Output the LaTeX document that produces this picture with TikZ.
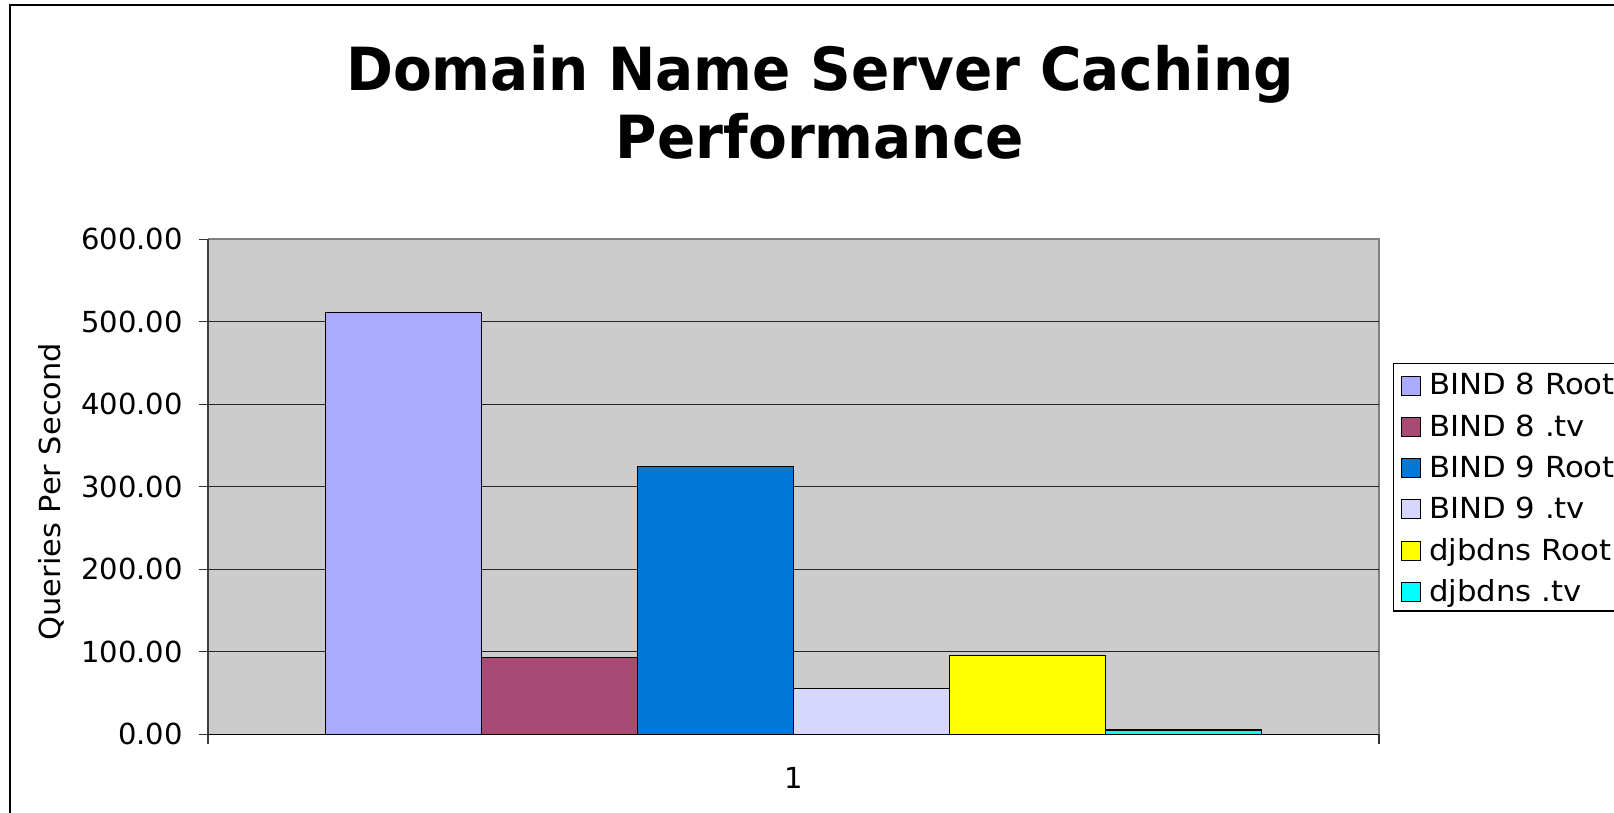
\documentclass[tikz,border=0pt]{standalone}
\usepackage{graphicx}
\usepackage{fontspec}
\setmainfont{DejaVu Sans}
\definecolor{plotbg}{RGB}{204,204,204}
\definecolor{bAroot}{RGB}{170,170,255}
\definecolor{bAtv}{RGB}{169,74,116}
\definecolor{bBroot}{RGB}{0,121,214}
\definecolor{bBtv}{RGB}{214,214,255}
\definecolor{djroot}{RGB}{255,255,0}
\definecolor{djtv}{RGB}{0,255,255}
\definecolor{edgegray}{RGB}{128,128,128}
\begin{document}
\begin{tikzpicture}[x=1pt,y=-1pt,
  lbl/.style={font=\fontsize{29}{34}\selectfont, inner sep=0pt},
  wlbl/.style={font=\fontsize{29}{34}\selectfont, inner sep=0pt},
  ttl/.style={font=\fontsize{59.5}{60}\selectfont\bfseries, inner sep=0pt, anchor=base},
  barbox/.style={draw=black, line width=1.4pt},
  swatch/.style={draw=black, line width=1pt, minimum size=19pt, inner sep=0pt},
  gridln/.style={draw=black!85, line width=1.1pt},
  tick/.style={draw=black!80, line width=1.1pt}]
\useasboundingbox (0,0) rectangle (1614,812);
\clip (0,0) rectangle (1614,812);
\fill[white] (0,0) rectangle (1614,812);
% outer chart frame
\draw[line width=1.6pt] (10,5) rectangle (1700,900);
% title
\node[ttl] (title1) at (820,90) {\scalebox{0.95}[1]{Domain Name Server Caching}};
\node[ttl] (title2) at (820,158.3) {\scalebox{0.95}[1]{Performance}};
% plot area
\fill[plotbg] (208,239) rectangle (1379,734.3);
\draw[edgegray, line width=1.5pt] (208,239) -- (1379,239) -- (1379,734.3);
% gridlines
\foreach \v in {1,...,5}
  \draw[gridln] (208,{734.3-82.5*\v}) -- (1379,{734.3-82.5*\v});
% bars
\draw[barbox, fill=bAroot] (325.3,734.3) rectangle (481.3,312.7);
\draw[barbox, fill=bAtv]   (481.3,734.3) rectangle (637.3,657.7);
\draw[barbox, fill=bBroot] (637.3,734.3) rectangle (793.3,466.7);
\draw[barbox, fill=bBtv]   (793.3,734.3) rectangle (949.3,688.3);
\draw[barbox, fill=djroot] (949.3,734.3) rectangle (1105.3,655.5);
\draw[barbox, fill=djtv]   (1105.3,734.3) rectangle (1261.3,730);
% axes
\draw[black!75, line width=1.5pt] (208,239) -- (208,744);
\draw[black, line width=1.3pt] (208,734.3) -- (1379,734.3);
\draw[tick] (1379,734.3) -- (1379,744);
\foreach \v in {0,...,6}
  \draw[tick] (199,{734.3-82.5*\v}) -- (208,{734.3-82.5*\v});
% tick labels
\node[lbl, anchor=east] (y0) at (183,734.3) {0.00};
\node[lbl, anchor=east] (y1) at (183,651.8) {100.00};
\node[lbl, anchor=east] (y2) at (183,569.3) {200.00};
\node[lbl, anchor=east] (y3) at (183,486.8) {300.00};
\node[lbl, anchor=east] (y4) at (183,404.3) {400.00};
\node[lbl, anchor=east] (y5) at (183,321.8) {500.00};
\node[lbl, anchor=east] (y6) at (183,239.3) {600.00};
\node[lbl, anchor=base] (xcat) at (793.5,788.3) {1};
\node[wlbl, anchor=base, rotate=90] (ylab) at (60,491.7) {\scalebox{1.05}[1]{Queries Per Second}};
% legend
\draw[black, line width=1.2pt] (1393.3,363.3) rectangle (1700,611);
\foreach \c/\t [count=\i from 0] in {bAroot/BIND 8 Root, bAtv/BIND 8 .tv, bBroot/BIND 9 Root, bBtv/BIND 9 .tv, djroot/djbdns Root, djtv/djbdns .tv}{
  \node[swatch, fill=\c] (sw\i) at (1410.7,{385.5+41.3*\i}) {};
  \node[wlbl, anchor=base west] (lg\i) at (1429,{394.8+41.3*\i}) {\scalebox{1.06}[1]{\t}};
}
\end{tikzpicture}
\end{document}
